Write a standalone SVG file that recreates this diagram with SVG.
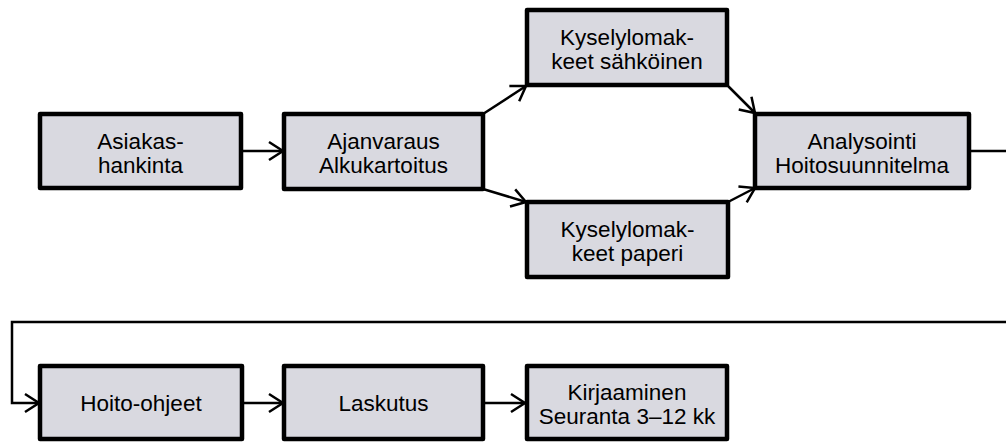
<svg xmlns="http://www.w3.org/2000/svg" width="1006" height="443" viewBox="0 0 1006 443">
<style>
.box{fill:#d9d9e0;stroke:#000;stroke-width:4.5;stroke-linejoin:round}
.lbl{font-family:"Liberation Sans",Arial,sans-serif;font-size:22.5px;fill:#000;text-anchor:middle}
.con{fill:none;stroke:#000;stroke-width:2.5}
</style>
<defs>
<marker id="arr" markerUnits="userSpaceOnUse" markerWidth="20" markerHeight="22" refX="16" refY="11" orient="auto" viewBox="0 0 20 22">
<path d="M2,2 L16,11 L2,20" fill="none" stroke="#000" stroke-width="2.5"/>
</marker>
</defs>
<g id="connectors">
<path class="con" d="M241,151 H283" marker-end="url(#arr)"/>
<path class="con" d="M483,114 L526,86" marker-end="url(#arr)"/>
<path class="con" d="M483,189 L526,202" marker-end="url(#arr)"/>
<path class="con" d="M727,85 L755,113" marker-end="url(#arr)"/>
<path class="con" d="M728,202 L755,188" marker-end="url(#arr)"/>
<path class="con" d="M969,151 H1006"/>
<path class="con" d="M1006,322 H12 V403 H39" marker-end="url(#arr)"/>
<path class="con" d="M242,403 H283" marker-end="url(#arr)"/>
<path class="con" d="M483,403 H525" marker-end="url(#arr)"/>
</g>
<g id="n1"><rect class="box" x="40" y="114" width="201" height="74"/><text class="lbl" x="140.5" y="149">Asiakas-</text><text class="lbl" x="140.5" y="173">hankinta</text></g>
<g id="n2"><rect class="box" x="284" y="114" width="199" height="75"/><text class="lbl" x="383.5" y="149">Ajanvaraus</text><text class="lbl" x="383.5" y="173">Alkukartoitus</text></g>
<g id="n3"><rect class="box" x="527" y="10" width="200" height="75"/><text class="lbl" x="627" y="45">Kyselylomak-</text><text class="lbl" x="627" y="69">keet sähköinen</text></g>
<g id="n4"><rect class="box" x="527" y="202" width="201" height="75"/><text class="lbl" x="627.5" y="237">Kyselylomak-</text><text class="lbl" x="627.5" y="261">keet paperi</text></g>
<g id="n5"><rect class="box" x="755" y="114" width="214" height="74"/><text class="lbl" x="862" y="149">Analysointi</text><text class="lbl" x="862" y="173">Hoitosuunnitelma</text></g>
<g id="n6"><rect class="box" x="40" y="366" width="202" height="73"/><text class="lbl" x="141" y="411">Hoito-ohjeet</text></g>
<g id="n7"><rect class="box" x="284" y="366" width="199" height="73"/><text class="lbl" x="383.5" y="411">Laskutus</text></g>
<g id="n8"><rect class="box" x="527" y="366" width="200" height="73"/><text class="lbl" x="627" y="400">Kirjaaminen</text><text class="lbl" x="627" y="424">Seuranta 3–12 kk</text></g>
</svg>
